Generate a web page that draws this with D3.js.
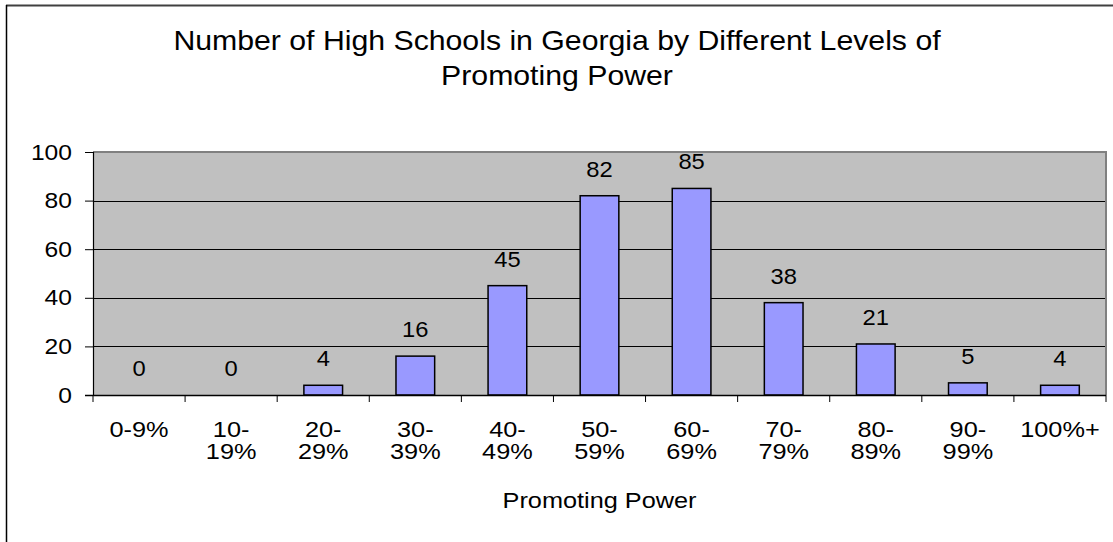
<!DOCTYPE html>
<html><head><meta charset="utf-8">
<script src="https://cdn.jsdelivr.net/npm/d3@7"></script>
<style>body{margin:0;background:#fff}svg{display:block}text{font-family:"Liberation Sans",Arial,sans-serif;fill:#000}</style>
</head><body>
<script>
const categories = ["0-9%","10-19%","20-29%","30-39%","40-49%","50-59%","60-69%","70-79%","80-89%","90-99%","100%+"];
const categoryLines = [["0-9%"],["10-","19%"],["20-","29%"],["30-","39%"],["40-","49%"],["50-","59%"],["60-","69%"],["70-","79%"],["80-","89%"],["90-","99%"],["100%+"]];
const values = [0,0,4,16,45,82,85,38,21,5,4];
const yTicks = [0,20,40,60,80,100];
const titleLines = ["Number of High Schools in Georgia by Different Levels of","Promoting Power"];
const xTitle = "Promoting Power";

const W=1113,H=542;
const svg=d3.select("body").append("svg").attr("width",W).attr("height",H);
const m={l:93,r:1106,t:152,b:395};
const x=d3.scaleBand().domain(categories).range([m.l,m.r]).paddingInner(0.58).paddingOuter(0.29);
const xb=d3.scaleBand().domain(categories).range([m.l,m.r]);
const y=d3.scaleLinear().domain([0,100]).range([m.b,m.t]);

// helper: text with horizontal stretch
function stext(g, px, py, str, size, sx, anchor){
  return g.append("text").attr("transform",`translate(${px},${py}) scale(${sx},1)`)
    .attr("text-anchor",anchor||"middle").attr("font-size",size).text(str);
}

// outer border
svg.append("line").attr("x1",6).attr("x2",W).attr("y1",5.5).attr("y2",5.5).attr("stroke","#404040").attr("stroke-width",2);
svg.append("line").attr("x1",6.5).attr("x2",6.5).attr("y1",5).attr("y2",H).attr("stroke","#000").attr("stroke-width",1.5);

// title
titleLines.forEach((t,i)=>stext(svg,557,50+i*35,t,28,1.08));

// plot background
svg.append("rect").attr("x",m.l).attr("y",m.t).attr("width",m.r-m.l).attr("height",m.b-m.t).attr("fill","#c0c0c0");
// gridlines
svg.append("g").selectAll("line").data(yTicks.filter(d=>d>0&&d<100)).join("line")
  .attr("x1",m.l).attr("x2",m.r).attr("y1",d=>Math.round(y(d))+0.5).attr("y2",d=>Math.round(y(d))+0.5).attr("stroke","#000").attr("stroke-width",1);
// plot border top/right
svg.append("path").attr("d",`M${m.l},${m.t}H${m.r}V${m.b}`).attr("fill","none").attr("stroke","#808080").attr("stroke-width",2);

// bars
svg.append("g").selectAll("rect").data(values).join("rect")
  .attr("x",(d,i)=>x(categories[i])).attr("width",x.bandwidth())
  .attr("y",d=>y(d)).attr("height",d=>m.b-y(d))
  .attr("fill","#9999ff").attr("stroke","#000").attr("stroke-width",1.5)
  .attr("display",d=>d>0?null:"none");

// data labels
const dl=svg.append("g");
values.forEach((v,i)=>stext(dl, x(categories[i])+x.bandwidth()/2, y(v)-19, String(v), 22, 1.08));

// y axis
const ya=svg.append("g").attr("transform",`translate(${m.l},0)`).call(d3.axisLeft(y).tickValues(yTicks).tickSize(8).tickFormat(""));
ya.select(".domain").remove();
ya.selectAll("line").attr("stroke","#000");
const yl=svg.append("g");
yTicks.forEach(t=>stext(yl, 72, y(t)+7.5, String(t), 22, 1.12, "end"));
svg.append("line").attr("x1",m.l+0.5).attr("x2",m.l+0.5).attr("y1",m.t).attr("y2",m.b).attr("stroke","#000").attr("stroke-width",1.2);

// x axis
svg.append("line").attr("x1",m.l-8).attr("x2",m.r).attr("y1",m.b+0.5).attr("y2",m.b+0.5).attr("stroke","#000").attr("stroke-width",1.5);
const bounds=categories.map(c=>xb(c)).concat([m.r]);
svg.append("g").selectAll("line").data(bounds).join("line")
  .attr("x1",d=>d).attr("x2",d=>d).attr("y1",m.b).attr("y2",m.b+7).attr("stroke","#000").attr("stroke-width",1);
const xl=svg.append("g");
categoryLines.forEach((lines,i)=>lines.forEach((s,j)=>stext(xl, xb(categories[i])+xb.bandwidth()/2, 437+j*22, s, 22, 1.15)));

stext(svg,(m.l+m.r)/2,508,xTitle,22,1.15);
</script>
</body></html>
